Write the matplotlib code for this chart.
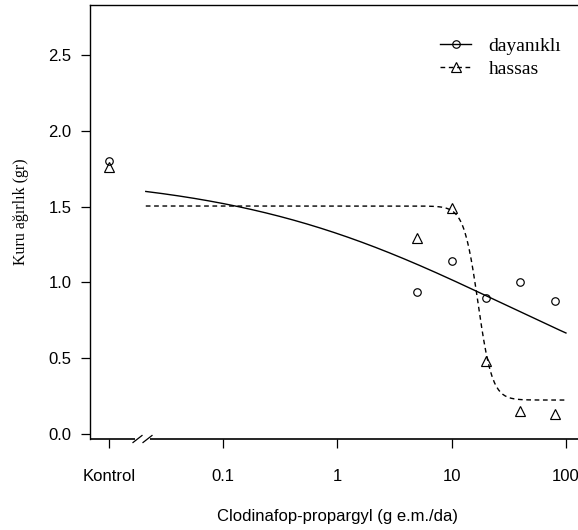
import numpy as np
import matplotlib
matplotlib.use("Agg")
import matplotlib.pyplot as plt
from matplotlib.lines import Line2D

# ---- data ----
tick_positions = [0.01, 0.1, 1, 10, 100]
tick_labels = ["Kontrol", "0.1", "1", "10", "100"]
y_ticks = [0.0, 0.5, 1.0, 1.5, 2.0, 2.5]

doses = [0.01, 5, 10, 20, 40, 80]          # 0.01 = Kontrol
dayanikli = [1.80, 0.94, 1.14, 0.90, 1.00, 0.88]
hassas = [1.76, 1.29, 1.49, 0.48, 0.15, 0.13]

# fitted log-logistic curve parameters (b, c, d, e)
fit_dayanikli = dict(b=0.36, c=0.0, d=1.72, e=28.0)
fit_hassas = dict(b=7.0, c=0.224, d=1.504, e=17.0)
curve_start, curve_end = 0.021, 100.0

series_names = ["dayanıklı", "hassas"]


def loglogistic(x, b, c, d, e):
    return c + (d - c) / (1.0 + (x / e) ** b)


plt.rcParams["lines.scale_dashes"] = False
W, H = 578, 530
fig = plt.figure(figsize=(W / 100, H / 100), dpi=100)
ax = fig.add_axes([90 / W, 1 - 439 / H, (584 - 90) / W, (439 - 5) / H])

ax.set_xscale("log")
ax.set_xlim(10 ** -2.166, 10 ** 2.158)
ax.set_ylim(-0.033, 2.83)

LW = 1.0
DASH = (0, (3.4, 2.6))
xc = np.logspace(np.log10(curve_start), np.log10(curve_end), 400)
ax.plot(xc, loglogistic(xc, **fit_dayanikli), color="black", lw=LW)
ax.plot(xc, loglogistic(xc, **fit_hassas), color="black", lw=LW,
        linestyle=DASH)

ax.plot(doses, dayanikli, linestyle="none", marker="o", ms=5.4,
        mfc="none", mec="black", mew=0.85)
ax.plot(doses, hassas, linestyle="none", marker="^", ms=7.0,
        mfc="none", mec="black", mew=0.85)

# axes / spines
ax.spines["right"].set_visible(False)
ax.spines["bottom"].set_visible(False)
for s in ["left", "top"]:
    ax.spines[s].set_linewidth(1.0)

# broken bottom axis
b0 = (133 - 90) / 494
b1 = (152 - 90) / 494
ax.plot([0, b0 + 0.004], [0, 0], transform=ax.transAxes, color="black",
        lw=1.2, clip_on=False, solid_capstyle="butt")
ax.plot([b1 - 0.004, 1], [0, 0], transform=ax.transAxes, color="black",
        lw=1.2, clip_on=False, solid_capstyle="butt")
dy = 3.5 / 434
sw = 9 / 494
for xs in (b0, b0 + 10 / 494):
    ax.plot([xs, xs + sw], [-dy, dy], transform=ax.transAxes, color="black",
            lw=0.9, clip_on=False)

ax.set_xticks(tick_positions)
ax.set_xticklabels(tick_labels)
ax.xaxis.set_minor_locator(matplotlib.ticker.NullLocator())
ax.set_yticks(y_ticks)
ax.set_yticklabels([f"{v:.1f}" for v in y_ticks])

ax.tick_params(axis="both", direction="out", length=6.5, width=0.9,
               labelsize=12, colors="black")
ax.tick_params(axis="x", pad=15)
ax.tick_params(axis="y", pad=7)
for lab in ax.get_xticklabels() + ax.get_yticklabels():
    lab.set_fontfamily("Liberation Sans")

fig.text(337 / W, 1 - 517 / H, "Clodinafop-propargyl (g e.m./da)",
         ha="center", va="center", fontsize=12, family="Liberation Sans")
fig.text(21 / W, 1 - 212 / H, "Kuru ağırlık (gr)", rotation=90,
         ha="center", va="center", fontsize=11.5, family="Liberation Serif")

handles = [
    Line2D([], [], color="black", lw=LW, marker="o", ms=5.4, mfc="none",
           mec="black", mew=0.85),
    Line2D([], [], color="black", lw=LW, linestyle=DASH,
           marker="^", ms=7.0, mfc="none", mec="black", mew=0.85),
]
leg = ax.legend(handles, series_names, loc="upper left",
                bbox_to_anchor=(440 / W, 1 - 37 / H),
                bbox_transform=fig.transFigure, frameon=False,
                prop={"family": "Liberation Serif", "size": 14},
                handlelength=1.6, handletextpad=0.9, labelspacing=0.3,
                borderpad=0, borderaxespad=0)

fig.savefig("out.png", dpi=100)
